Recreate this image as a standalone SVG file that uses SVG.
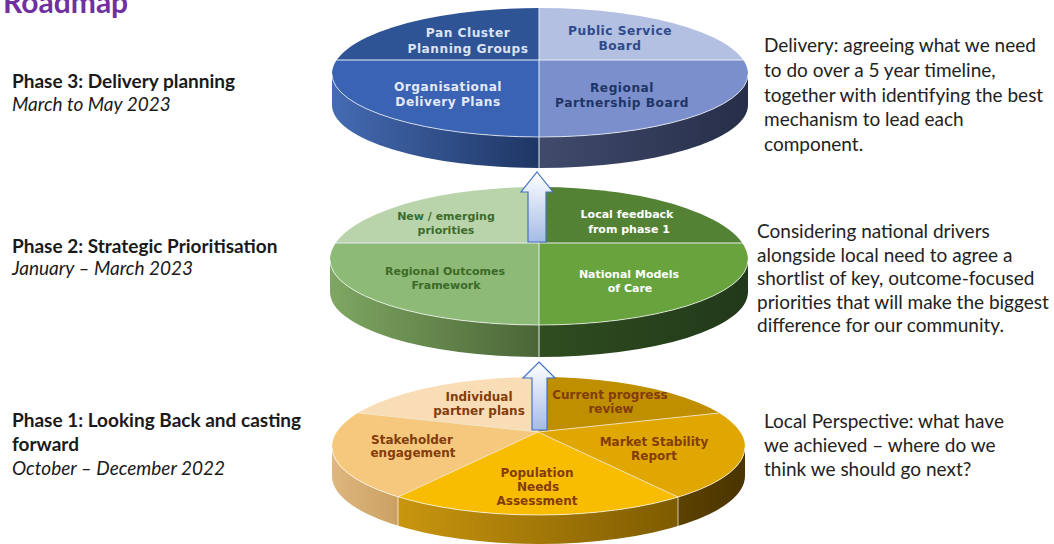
<svg xmlns="http://www.w3.org/2000/svg" width="1054" height="544" viewBox="0 0 1054 544">
<style>
.cal{font-family:Lato,"Open Sans","DejaVu Sans",sans-serif;fill:#1a1a1a}
.ph{font-size:19px;font-weight:bold}
.dt{font-size:19px;font-style:italic}
.rt{font-size:19px;fill:#222}
.lb{font-family:"DejaVu Sans","Liberation Sans",sans-serif;font-weight:bold;text-anchor:middle}
.t3{font-size:12.2px;letter-spacing:0.5px}
.t2{font-size:11px}
.t1{font-size:12px;fill:#833C0B}
.div{stroke:#E8ECF6;stroke-width:1;fill:none}
.hl{stroke:#ffffff;stroke-opacity:0.7;stroke-width:1;fill:none}
.arr{fill:url(#ga);stroke:#4472C4;stroke-width:1.2}
</style>
<defs>
<linearGradient id="ga" x1="0" y1="0" x2="0" y2="1"><stop offset="0" stop-color="#ffffff"/><stop offset="1" stop-color="#A5BBE5"/></linearGradient>
<linearGradient id="s3l" gradientUnits="userSpaceOnUse" x1="332" y1="0" x2="539" y2="0"><stop offset="0" stop-color="#456BB3"/><stop offset="1" stop-color="#1E3663"/></linearGradient>
<linearGradient id="s3r" gradientUnits="userSpaceOnUse" x1="539" y1="0" x2="748" y2="0"><stop offset="0" stop-color="#404B6C"/><stop offset="1" stop-color="#262E48"/></linearGradient>
<linearGradient id="s2l" gradientUnits="userSpaceOnUse" x1="330" y1="0" x2="539" y2="0"><stop offset="0" stop-color="#7FA763"/><stop offset="1" stop-color="#4A6536"/></linearGradient>
<linearGradient id="s2r" gradientUnits="userSpaceOnUse" x1="539" y1="0" x2="748" y2="0"><stop offset="0" stop-color="#2F4D20"/><stop offset="1" stop-color="#22391A"/></linearGradient>
<linearGradient id="s1a" gradientUnits="userSpaceOnUse" x1="332" y1="0" x2="398" y2="0"><stop offset="0" stop-color="#DDB77F"/><stop offset="1" stop-color="#CCA062"/></linearGradient>
<linearGradient id="s1b" gradientUnits="userSpaceOnUse" x1="398" y1="0" x2="678" y2="0"><stop offset="0" stop-color="#C9960F"/><stop offset="1" stop-color="#7E5B00"/></linearGradient>
<linearGradient id="s1c" gradientUnits="userSpaceOnUse" x1="678" y1="0" x2="745" y2="0"><stop offset="0" stop-color="#5C4200"/><stop offset="1" stop-color="#4A3400"/></linearGradient>
<clipPath id="f3"><path d="M332,74 A208,66 0 0 1 748,74 A208,63 0 0 1 332,74 Z"/></clipPath>
<clipPath id="c3"><path d="M332,74 A208,63 0 0 0 748,74 L748,105 A208,63 0 0 1 332,105 Z"/></clipPath>
<clipPath id="f2"><path d="M330,260 A209,73 0 0 1 748,260 A209,65 0 0 1 330,260 Z"/></clipPath>
<clipPath id="c2"><path d="M330,260 A209,65 0 0 0 748,260 L748,292 A209,65 0 0 1 330,292 Z"/></clipPath>
<clipPath id="f1"><path d="M332,447 A206.5,70 0 0 1 745,447 A206.5,68 0 0 1 332,447 Z"/></clipPath>
<clipPath id="c1"><path d="M332,447 A206.5,68 0 0 0 745,447 L745,476 A206.5,68 0 0 1 332,476 Z"/></clipPath>
</defs>
<rect width="1054" height="544" fill="#ffffff"/>
<text x="3" y="13" font-family="Lato,'Open Sans',sans-serif" font-weight="bold" font-size="30" fill="#7030A0">Roadmap</text>
<g id="phase-labels">
<text class="cal ph" x="12" y="88">Phase 3: Delivery planning</text>
<text class="cal dt" x="12" y="111">March to May 2023</text>
<text class="cal ph" x="12" y="253">Phase 2: Strategic Prioritisation</text>
<text class="cal dt" x="12" y="275">January – March 2023</text>
<text class="cal ph" x="12" y="427">Phase 1: Looking Back and casting</text>
<text class="cal ph" x="12" y="451">forward</text>
<text class="cal dt" x="12" y="475">October – December 2022</text>
</g>
<g id="descriptions">
<text class="cal rt" x="764" y="52">Delivery: agreeing what we need</text>
<text class="cal rt" x="764" y="77">to do over a 5 year timeline,</text>
<text class="cal rt" x="764" y="102">together with identifying the best</text>
<text class="cal rt" x="764" y="126">mechanism to lead each</text>
<text class="cal rt" x="764" y="151">component.</text>
<text class="cal rt" x="757" y="238">Considering national drivers</text>
<text class="cal rt" x="757" y="262">alongside local need to agree a</text>
<text class="cal rt" x="757" y="285">shortlist of key, outcome-focused</text>
<text class="cal rt" x="757" y="309">priorities that will make the biggest</text>
<text class="cal rt" x="757" y="332">difference for our community.</text>
<text class="cal rt" x="764" y="428">Local Perspective: what have</text>
<text class="cal rt" x="764" y="452">we achieved – where do we</text>
<text class="cal rt" x="764" y="476">think we should go next?</text>
</g>
<g id="phase1-disc">
<g clip-path="url(#c1)">
<rect x="330" y="440" width="68" height="110" fill="url(#s1a)"/>
<rect x="398" y="440" width="280" height="110" fill="url(#s1b)"/>
<rect x="678" y="440" width="70" height="110" fill="url(#s1c)"/>
</g>
<line class="hl" x1="398" y1="497" x2="398" y2="526" stroke-opacity="0.5"/>
<line class="hl" x1="678" y1="497" x2="678" y2="526" stroke-opacity="0.4"/>
<g clip-path="url(#f1)">
<g id="individual-partner-plans"><polygon points="538,432 538,300 250,300 250,401.6" fill="#F9DDB6"/></g>
<g id="stakeholder-engagement"><polygon points="538,432 250,401.6 250,565.7" fill="#F6C87D"/></g>
<g id="population-needs-assessment"><polygon points="538,432 250,565.7 826,565.7" fill="#F8BD00"/></g>
<g id="market-stability-report"><polygon points="538,432 826,565.7 826,401.8" fill="#DFA700"/></g>
<g id="current-progress-review"><polygon points="538,432 826,401.8 826,300 538,300" fill="#BF8F00"/></g>
<path d="M538,377 L538,432 L358,413 M538,432 L398,497 M538,432 L678,497 M538,432 L719,413" stroke="#F3E3C4" stroke-width="0.9" fill="none"/>
</g>
<path class="hl" d="M332,447 A206.5,68 0 0 0 745,447"/>
<text class="lb t1" x="479" y="401">Individual</text>
<text class="lb t1" x="479" y="415">partner plans</text>
<text class="lb t1" x="610" y="399" fill="#7A3A0C">Current progress</text>
<text class="lb t1" x="611" y="413" fill="#7A3A0C">review</text>
<text class="lb t1" x="412" y="444">Stakeholder</text>
<text class="lb t1" x="413" y="457">engagement</text>
<text class="lb t1" x="654" y="446">Market Stability</text>
<text class="lb t1" x="654" y="460">Report</text>
<text class="lb t1" x="537" y="477">Population</text>
<text class="lb t1" x="538" y="491">Needs</text>
<text class="lb t1" x="537" y="505">Assessment</text>
</g>
<g id="phase2-disc">
<g clip-path="url(#c2)">
<rect x="328" y="250" width="211" height="115" fill="url(#s2l)"/>
<rect x="539" y="250" width="212" height="115" fill="url(#s2r)"/>
</g>
<g clip-path="url(#f2)">
<g id="new-emerging-priorities"><rect x="328" y="180" width="211" height="63" fill="#B9D4AA"/></g>
<g id="local-feedback"><rect x="539" y="180" width="212" height="63" fill="#548235"/></g>
<g id="regional-outcomes-framework"><rect x="328" y="243" width="211" height="90" fill="#8DBA76"/></g>
<g id="national-models-of-care"><rect x="539" y="243" width="212" height="90" fill="#68A33D"/></g>
<path class="div" d="M320,243 H760"/>
</g>
<line class="div" x1="539" y1="187" x2="539" y2="358" stroke="#E6EFE0"/>
<path class="hl" d="M330,260 A209,65 0 0 0 748,260"/>
<text class="lb t2" x="446" y="220" fill="#3E6B2B">New / emerging</text>
<text class="lb t2" x="446" y="234" fill="#3E6B2B">priorities</text>
<text class="lb t2" x="627" y="218" fill="#ffffff">Local feedback</text>
<text class="lb t2" x="629" y="233" fill="#ffffff">from phase 1</text>
<text class="lb t2" x="445" y="275" fill="#3C6A28">Regional Outcomes</text>
<text class="lb t2" x="446" y="289" fill="#3C6A28">Framework</text>
<text class="lb t2" x="629" y="278" fill="#ffffff">National Models</text>
<text class="lb t2" x="630" y="292" fill="#ffffff">of Care</text>
</g>
<g id="phase3-disc">
<g clip-path="url(#c3)">
<rect x="330" y="65" width="209" height="110" fill="url(#s3l)"/>
<rect x="539" y="65" width="212" height="110" fill="url(#s3r)"/>
</g>
<g clip-path="url(#f3)">
<g id="pan-cluster-planning-groups"><rect x="328" y="0" width="211" height="60" fill="#2F5496"/></g>
<g id="public-service-board"><rect x="539" y="0" width="212" height="60" fill="#B3C0E2"/></g>
<g id="organisational-delivery-plans"><rect x="328" y="60" width="211" height="85" fill="#3A63B3"/></g>
<g id="regional-partnership-board"><rect x="539" y="60" width="212" height="85" fill="#7A8FCB"/></g>
<path class="div" d="M320,60 H760"/>
</g>
<line class="div" x1="539" y1="8" x2="539" y2="168"/>
<path class="hl" d="M332,74 A208,63 0 0 0 748,74"/>
<text class="lb t3" x="468" y="37" fill="#DCE3F2">Pan Cluster</text>
<text class="lb t3" x="468" y="53" fill="#DCE3F2">Planning Groups</text>
<text class="lb t3" x="620" y="35" fill="#2E4A8C">Public Service</text>
<text class="lb t3" x="620" y="50" fill="#2E4A8C">Board</text>
<text class="lb t3" x="448" y="91" fill="#E3E9F6">Organisational</text>
<text class="lb t3" x="448" y="106" fill="#E3E9F6">Delivery Plans</text>
<text class="lb t3" x="622" y="92" fill="#1F3466">Regional</text>
<text class="lb t3" x="622" y="107" fill="#1F3466">Partnership Board</text>
</g>
<g id="connectors">
<path class="arr" d="M537,172 L553,192 L546,192 L546,242 L528,242 L528,192 L521,192 Z"/>
<path class="arr" d="M539,362 L555,378 L547,378 L547,430 L532,430 L532,378 L523,378 Z"/>
</g>
</svg>
